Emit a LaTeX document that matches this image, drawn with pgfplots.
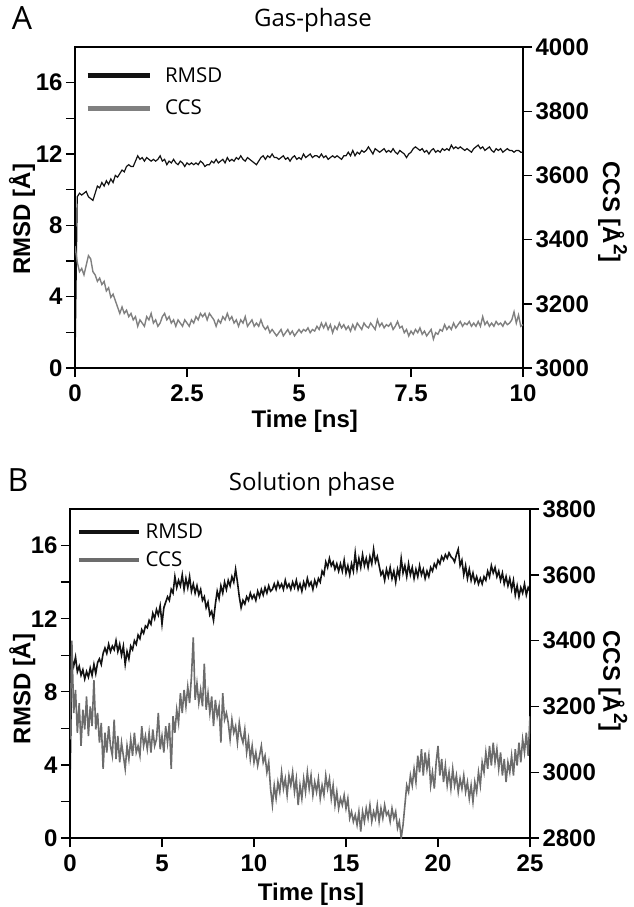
\documentclass[border=0pt]{standalone}
\usepackage{fontspec}
\setmainfont{Liberation Sans}
\newfontfamily\osans{Open Sans}
\usepackage{pgfplots}
\pgfplotsset{compat=1.18}
\usepackage{pgfplotstable}

\definecolor{ccsA}{RGB}{128,128,128}
\definecolor{ccsB}{RGB}{108,108,108}
\definecolor{rmsdc}{RGB}{18,18,18}

\pgfplotsset{
  mybase/.style={
    scale only axis,
    anchor=south west,
    axis line style={line width=1.6pt},
    every tick/.style={line width=1.4pt, black},
    major tick length=9pt, minor tick length=9pt,
    tick align=outside,
    /pgf/number format/assume math mode=true,
    /pgf/number format/1000 sep={},
    tick label style={font=\fontsize{24}{28}\selectfont\bfseries},
    xticklabel style={yshift=-4pt},
    label style={font=\fontsize{24}{28}\selectfont\bfseries},
    title style={font=\osans\fontsize{24}{29}\selectfont},
  },
}

\pgfplotstableread{
t r c
0.00 0.0 3380
0.05 9.6 3330
0.10 9.8 3300
0.15 9.7 3310
0.20 9.8 3290
0.25 9.9 3320
0.30 9.6 3350
0.35 9.5 3340
0.40 9.4 3300
0.45 9.8 3290
0.50 10.2 3270
0.55 10.1 3280
0.60 10.4 3260
0.65 10.2 3270
0.70 10.5 3240
0.75 10.3 3250
0.80 10.6 3220
0.85 10.4 3230
0.90 10.8 3210
0.95 10.7 3190
1.00 10.9 3170
1.05 11.1 3190
1.10 11.0 3170
1.15 11.3 3180
1.20 11.4 3160
1.25 11.3 3170
1.30 11.3 3150
1.35 11.6 3160
1.40 11.9 3130
1.45 11.7 3150
1.50 11.8 3140
1.55 11.6 3130
1.60 11.8 3160
1.65 11.7 3150
1.70 11.6 3170
1.75 11.7 3140
1.80 11.6 3150
1.85 11.7 3130
1.90 11.9 3140
1.95 11.6 3160
2.00 11.7 3170
2.05 11.4 3150
2.10 11.6 3160
2.15 11.5 3140
2.20 11.7 3150
2.25 11.5 3130
2.30 11.4 3150
2.35 11.6 3140
2.40 11.5 3130
2.45 11.3 3150
2.50 11.5 3140
2.55 11.4 3130
2.60 11.5 3150
2.65 11.4 3140
2.70 11.5 3160
2.75 11.4 3150
2.80 11.6 3170
2.85 11.5 3160
2.90 11.3 3170
2.95 11.4 3150
3.00 11.4 3170
3.05 11.6 3160
3.10 11.5 3150
3.15 11.7 3130
3.20 11.5 3150
3.25 11.6 3140
3.30 11.7 3160
3.35 11.5 3150
3.40 11.8 3170
3.45 11.6 3150
3.50 11.7 3160
3.55 11.6 3140
3.60 11.8 3150
3.65 11.7 3130
3.70 11.9 3150
3.75 11.7 3140
3.80 11.6 3160
3.85 11.8 3130
3.90 11.7 3140
3.95 11.6 3150
4.00 11.5 3130
4.05 11.4 3140
4.10 11.6 3130
4.15 11.8 3150
4.20 11.9 3130
4.25 11.7 3120
4.30 11.9 3130
4.35 11.8 3110
4.40 12.0 3120
4.45 11.8 3110
4.50 11.8 3100
4.55 11.7 3110
4.60 11.8 3120
4.65 11.9 3100
4.70 11.7 3110
4.75 11.8 3120
4.80 11.6 3105
4.85 11.8 3115
4.90 11.9 3100
4.95 11.7 3110
5.00 11.8 3120
5.05 11.7 3110
5.10 12.0 3120
5.15 11.8 3115
5.20 11.9 3125
5.25 12.0 3110
5.30 11.8 3120
5.35 11.9 3115
5.40 11.9 3130
5.45 11.8 3120
5.50 12.0 3140
5.55 11.8 3125
5.60 11.9 3140
5.65 11.7 3120
5.70 11.8 3135
5.75 11.9 3110
5.80 11.8 3130
5.85 11.9 3120
5.90 11.8 3140
5.95 11.7 3125
6.00 11.9 3135
6.05 11.9 3120
6.10 12.1 3130
6.15 11.9 3115
6.20 12.2 3135
6.25 11.9 3120
6.30 12.1 3140
6.35 12.0 3130
6.40 12.2 3120
6.45 12.1 3140
6.50 12.2 3130
6.55 12.4 3125
6.60 12.2 3140
6.65 12.0 3130
6.70 12.3 3120
6.75 12.2 3150
6.80 12.1 3130
6.85 12.2 3140
6.90 12.3 3125
6.95 12.1 3135
7.00 12.2 3130
7.05 12.1 3140
7.10 12.3 3120
7.15 12.1 3130
7.20 12.0 3145
7.25 12.2 3125
7.30 12.1 3130
7.35 12.0 3110
7.40 11.8 3120
7.45 12.0 3100
7.50 12.1 3115
7.55 12.3 3105
7.60 12.4 3120
7.65 12.3 3110
7.70 12.2 3125
7.75 12.3 3105
7.80 12.1 3115
7.85 12.2 3100
7.90 12.0 3110
7.95 12.2 3120
8.00 12.3 3090
8.05 12.1 3110
8.10 12.2 3105
8.15 12.1 3120
8.20 12.3 3115
8.25 12.2 3135
8.30 12.3 3120
8.35 12.2 3130
8.40 12.5 3120
8.45 12.3 3140
8.50 12.4 3125
8.55 12.3 3135
8.60 12.4 3145
8.65 12.3 3130
8.70 12.2 3140
8.75 12.3 3135
8.80 12.2 3145
8.85 12.1 3130
8.90 12.3 3140
8.95 12.4 3130
9.00 12.5 3145
9.05 12.3 3130
9.10 12.4 3160
9.15 12.2 3135
9.20 12.3 3145
9.25 12.4 3130
9.30 12.2 3140
9.35 12.1 3130
9.40 12.3 3145
9.45 12.2 3135
9.50 12.3 3140
9.55 12.1 3130
9.60 12.2 3145
9.65 12.3 3135
9.70 12.2 3140
9.75 12.2 3150
9.80 12.1 3175
9.85 12.2 3140
9.90 12.2 3165
9.95 12.1 3130
10.00 12.1 3135
}\dataA

\pgfplotstableread{
t r c
0.0 3.0 3100
0.1 9.8 3400
0.2 9.4 3180
0.3 9.9 3250
0.4 9.1 3120
0.5 9.4 3210
0.6 8.9 3080
0.7 9.2 3190
0.8 8.7 3130
0.9 9.1 3230
1.0 8.8 3110
1.1 9.3 3200
1.2 8.9 3140
1.3 9.5 3280
1.4 9.0 3130
1.5 9.6 3180
1.6 9.8 3090
1.7 9.5 3150
1.8 10.1 3010
1.9 10.4 3120
2.0 10.1 3060
2.1 10.6 3140
2.2 10.2 3080
2.3 10.5 3050
2.4 10.3 3160
2.5 10.8 3040
2.6 10.2 3110
2.7 10.6 3030
2.8 10.0 3090
2.9 10.5 3050
3.0 9.5 3010
3.1 10.2 3080
3.2 9.8 3040
3.3 10.5 3100
3.4 10.3 3050
3.5 10.8 3120
3.6 10.6 3060
3.7 11.1 3080
3.8 10.9 3050
3.9 11.4 3140
4.0 11.2 3080
4.1 11.6 3110
4.2 11.5 3070
4.3 11.9 3120
4.4 11.7 3060
4.5 12.3 3130
4.6 12.0 3080
4.7 12.5 3100
4.8 12.2 3180
4.9 12.7 3070
5.0 11.7 3110
5.1 12.6 3060
5.2 12.9 3140
5.3 13.2 3090
5.4 13.0 3150
5.5 13.6 3010
5.6 13.4 3170
5.7 14.3 3120
5.8 13.7 3190
5.9 14.1 3150
6.0 13.8 3240
6.1 14.4 3180
6.2 13.6 3250
6.3 14.2 3200
6.4 13.7 3260
6.5 14.3 3210
6.6 13.5 3290
6.7 13.9 3410
6.8 13.4 3220
6.9 13.8 3270
7.0 13.3 3210
7.1 13.6 3250
7.2 13.0 3200
7.3 13.2 3330
7.4 12.6 3190
7.5 12.9 3240
7.6 12.2 3180
7.7 12.4 3230
7.8 11.9 3140
7.9 12.8 3220
8.0 13.5 3170
8.1 13.1 3200
8.2 13.8 3090
8.3 13.4 3240
8.4 14.0 3160
8.5 13.6 3180
8.6 14.1 3150
8.7 13.8 3100
8.8 14.3 3160
8.9 14.0 3120
9.0 14.7 3140
9.1 14.0 3090
9.2 13.2 3150
9.3 12.6 3110
9.4 13.0 3090
9.5 12.8 3130
9.6 13.2 3060
9.7 13.0 3100
9.8 13.4 3040
9.9 13.1 3080
10.0 13.3 3030
10.1 13.0 3060
10.2 13.5 3020
10.3 13.2 3050
10.4 13.6 3080
10.5 13.3 3030
10.6 13.7 3050
10.7 13.4 3000
10.8 13.8 3030
10.9 13.5 2950
11.0 13.6 2900
11.1 13.9 2960
11.2 13.6 2920
11.3 14.0 2970
11.4 13.7 2940
11.5 13.9 3000
11.6 13.6 2950
11.7 14.1 2980
11.8 13.7 2930
11.9 13.9 2990
12.0 13.6 2960
12.1 14.0 3000
12.2 13.7 2940
12.3 14.1 2980
12.4 13.6 2900
12.5 13.9 2960
12.6 13.5 2920
12.7 14.0 2980
12.8 13.7 2940
12.9 14.2 3000
13.0 13.8 2950
13.1 14.0 2990
13.2 13.6 2930
13.3 14.1 2970
13.4 13.8 2940
13.5 14.2 2980
13.6 14.0 2920
13.7 14.6 2960
13.8 14.4 2930
13.9 15.1 2990
14.0 14.8 2950
14.1 15.3 2980
14.2 14.9 2920
14.3 15.1 2960
14.4 14.7 2900
14.5 15.0 2940
14.6 14.6 2890
14.7 15.0 2920
14.8 14.6 2900
14.9 15.2 2930
15.0 14.5 2890
15.1 14.9 2920
15.2 14.4 2860
15.3 15.0 2880
15.4 14.6 2850
15.5 15.6 2870
15.6 14.7 2840
15.7 15.3 2880
15.8 14.8 2820
15.9 15.5 2880
16.0 14.9 2850
16.1 15.3 2890
16.2 14.8 2860
16.3 15.4 2900
16.4 15.0 2850
16.5 15.8 2880
16.6 15.1 2860
16.7 15.4 2900
16.8 14.9 2850
16.9 14.4 2890
17.0 14.6 2860
17.1 14.1 2900
17.2 14.7 2870
17.3 14.3 2880
17.4 14.8 2850
17.5 14.2 2890
17.6 14.6 2860
17.7 14.0 2880
17.8 14.7 2830
17.9 14.3 2850
18.0 15.3 2800
18.1 14.5 2840
18.2 14.9 2900
18.3 14.3 2960
18.4 15.0 2940
18.5 14.4 2990
18.6 14.8 2960
18.7 14.2 3010
18.8 14.7 2970
18.9 14.3 3050
19.0 14.9 3000
19.1 14.4 3070
19.2 14.7 2990
19.3 14.2 3060
19.4 14.6 3010
19.5 14.3 3050
19.6 14.8 2960
19.7 14.6 3000
19.8 15.0 2950
19.9 14.8 3030
20.0 15.2 3080
20.1 15.0 2990
20.2 15.4 3040
20.3 15.2 2970
20.4 15.5 3020
20.5 15.3 2960
20.6 15.6 3000
20.7 15.4 2950
20.8 15.3 3010
20.9 15.1 2960
21.0 15.5 2990
21.1 15.8 2940
21.2 14.9 2980
21.3 15.2 2950
21.4 14.4 2990
21.5 14.9 2940
21.6 14.2 2970
21.7 14.7 2920
21.8 14.1 2960
21.9 14.5 2910
22.0 14.0 2970
22.1 14.3 2940
22.2 13.9 3000
22.3 14.2 2960
22.4 13.9 3030
22.5 14.3 3000
22.6 14.1 3060
22.7 14.6 3010
22.8 14.3 3080
22.9 14.9 3020
23.0 14.5 3090
23.1 14.8 3030
23.2 14.3 3070
23.3 14.6 3010
23.4 14.1 3060
23.5 14.5 2990
23.6 13.9 3040
23.7 14.3 2970
23.8 13.8 3030
23.9 14.2 3000
24.0 13.6 3050
24.1 14.1 2990
24.2 13.3 3070
24.3 13.8 3020
24.4 13.2 3090
24.5 13.7 3030
24.6 13.4 3100
24.7 13.9 3060
24.8 13.3 3120
24.9 13.7 3050
25.0 13.5 3170
}\dataB

\begin{document}
\begin{tikzpicture}
\useasboundingbox (0pt,0pt) rectangle (633pt,-907pt);

% ---------------- Panel A ----------------
\node[font=\osans\fontsize{32}{36}\selectfont] at (22pt,-18pt) {A};
\begin{axis}[mybase, at={(75pt,-368pt)}, width=448pt, height=321pt,
  xmin=0, xmax=10, ymin=0, ymax=18,
  xtick={0,2.5,5,7.5,10}, ytick={0,4,8,12,16}, minor ytick={2,6,10,14},
  xtick pos=left, ytick pos=left,
  xlabel={Time [ns]}, ylabel={RMSD [Å]},
  xlabel style={at={(axis description cs:0.513,-0.165)}, anchor=center},
  ylabel style={at={(axis description cs:-0.118,0.464)}, anchor=center},
  title={Gas-phase},
  title style={at={(axis description cs:0.531,1.065)}, anchor=center},
  legend image code/.code={\draw[#1] (0pt,0pt) -- (62pt,0pt);},
  legend cell align=left,
  legend style={at={(axis description cs:0.022,0.936)}, anchor=north west,
    draw=none, fill=none, inner sep=0pt, row sep=16pt, column sep=13pt,
    font=\osans\fontsize{20.5}{24}\selectfont, nodes={inner sep=0pt}},
]
\addlegendimage{rmsdc, line width=5pt}
\addlegendimage{ccsA, line width=5pt}
\legend{RMSD, CCS}
\addplot[rmsdc, line width=1.2pt, forget plot] table[x=t, y=r] {\dataA};
\end{axis}
\begin{axis}[mybase, at={(75pt,-368pt)}, width=448pt, height=321pt,
  xmin=0, xmax=10, ymin=3000, ymax=4000,
  xtick=\empty, ytick={3000,3200,...,4000},
  ytick pos=right, yticklabel pos=right,
  ylabel={CCS [Å\raisebox{0.45em}{\fontsize{19}{19}\selectfont 2}]},
  ylabel style={at={(axis description cs:1.2,0.486)}, anchor=center, rotate=180},
]
\addplot[ccsA, line width=1.4pt] table[x=t, y=c] {\dataA};
\end{axis}

% ---------------- Panel B ----------------
\node[font=\osans\fontsize{32}{36}\selectfont] at (18pt,-480pt) {B};
\begin{axis}[mybase, at={(70pt,-838pt)}, width=460pt, height=329pt,
  xmin=0, xmax=25, ymin=0, ymax=18,
  xtick={0,5,...,25}, ytick={0,4,8,12,16}, minor ytick={2,6,10,14},
  xtick pos=left, ytick pos=left,
  xlabel={Time [ns]}, ylabel={RMSD [Å]},
  xlabel style={at={(axis description cs:0.524,-0.17)}, anchor=center},
  ylabel style={at={(axis description cs:-0.104,0.453)}, anchor=center},
  title={Solution phase},
  title style={at={(axis description cs:0.526,1.058)}, anchor=center},
  legend image code/.code={\draw[#1] (0pt,0pt) -- (60pt,0pt);},
  legend cell align=left,
  legend style={at={(axis description cs:0.015,0.956)}, anchor=north west,
    draw=none, fill=none, inner sep=0pt, row sep=12pt, column sep=4pt,
    font=\osans\fontsize{20.5}{24}\selectfont, nodes={inner sep=0pt}},
]
\addlegendimage{rmsdc, line width=4.5pt}
\addlegendimage{ccsB, line width=4.5pt}
\legend{RMSD, CCS}
\addplot[rmsdc, line width=1.6pt, forget plot] table[x=t, y=r] {\dataB};
\end{axis}
\begin{axis}[mybase, at={(70pt,-838pt)}, width=460pt, height=329pt,
  xmin=0, xmax=25, ymin=2800, ymax=3800,
  xtick=\empty, ytick={2800,3000,...,3800},
  ytick pos=right, yticklabel pos=right,
  ylabel={CCS [Å\raisebox{0.45em}{\fontsize{19}{19}\selectfont 2}]},
  ylabel style={at={(axis description cs:1.18,0.477)}, anchor=center, rotate=180},
]
\addplot[ccsB, line width=1.6pt] table[x=t, y=c] {\dataB};
\end{axis}
\end{tikzpicture}
\end{document}
